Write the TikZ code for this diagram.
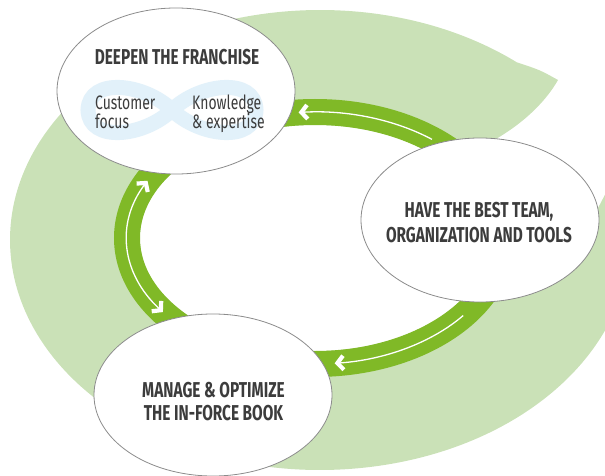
\documentclass[tikz,border=0pt]{standalone}
\usepackage{fontspec}
\setmainfont{Fira Sans}[FakeStretch=0.715]
\usetikzlibrary{shapes.geometric,arrows.meta}
\definecolor{leafgreen}{HTML}{CAE1B7}
\definecolor{ringgreen}{HTML}{80B927}
\definecolor{edgegray}{HTML}{8C8C8C}
\definecolor{inkgray}{HTML}{3C3C3C}
\definecolor{loopblue}{HTML}{E2F1FA}
\begin{document}
\begin{tikzpicture}[x=1pt,y=1pt,
  bubble/.style={ellipse, draw=edgegray, line width=0.8pt, fill=white, inner sep=0pt},
  head/.style={text=inkgray, font=\fontsize{21.5}{25}\selectfont\bfseries, anchor=base, inner sep=0pt},
  body/.style={text=inkgray, font=\fontsize{19.5}{19}\selectfont, anchor=base west, inner sep=0pt, text height=13pt, text depth=2pt},
  flow/.style={draw=white, line width=1.3pt},
  chev/.tip={Straight Barb[length=6pt,width=14pt,line width=4.2pt,sharp]}
]
\useasboundingbox (0,0) rectangle (605,475);
\clip (0,0) rectangle (605,475);
% light green swoosh
\fill[leafgreen] (558,395) .. controls (540,405) .. ([shift={(320,235)}]50.6:310pt and 230pt)
  arc[start angle=50.6, end angle=377, x radius=310pt, y radius=230pt]
  -- (597,265) -- (485,330) .. controls (520,348) and (545,372) .. (558,395) -- cycle;
% ring
\fill[white] (315,237) ellipse[x radius=175pt, y radius=113pt];
\draw[ringgreen, line width=26pt] (315,237) ellipse[x radius=188pt, y radius=126pt];
% arrows on the ring
\coordinate (a1s) at ([shift={(315,237)}]51.5:188pt and 126pt);
\coordinate (a2s) at ([shift={(315,237)}]153:188pt and 126pt);
\coordinate (a3s) at ([shift={(315,237)}]322:188pt and 126pt);
\draw[flow, -chev] (a1s) arc[start angle=51.5, end angle=95, x radius=188pt, y radius=126pt];
\draw[flow, chev-chev] (a2s) arc[start angle=153, end angle=216, x radius=188pt, y radius=126pt];
\draw[flow, -chev] (a3s) arc[start angle=322, end angle=276, x radius=188pt, y radius=126pt];
% bubbles
\node[bubble, minimum width=238pt, minimum height=166pt] (deepen) at (176,384) {};
\node[bubble, minimum width=238pt, minimum height=164pt] (team) at (480,255) {};
\node[bubble, minimum width=238pt, minimum height=162pt] (book) at (213,80) {};
% infinity loop
\draw[loopblue, line width=15pt] (172,365) .. controls (200,392) and (255,398) .. (256,365)
  .. controls (255,332) and (200,338) .. (172,365)
  .. controls (144,392) and (89,398) .. (88,365)
  .. controls (89,332) and (144,338) .. (172,365) -- cycle;
% texts
\node[head] (h1) at (177,410) {DEEPEN THE FRANCHISE};
\node[body] (c1) at (95,365) {Customer};
\node[body] (c2) at (95,346) {focus};
\node[body] (k1) at (192,365) {Knowledge};
\node[body] (k2) at (192,346) {\& expertise};
\node[head] (r1) at (479,258) {HAVE THE BEST TEAM,};
\node[head] (r2) at (479,233) {ORGANIZATION AND TOOLS};
\node[head] (b1) at (213.5,78) {MANAGE \& OPTIMIZE};
\node[head] (b2) at (213.5,55) {THE IN-FORCE BOOK};
\end{tikzpicture}
\end{document}
